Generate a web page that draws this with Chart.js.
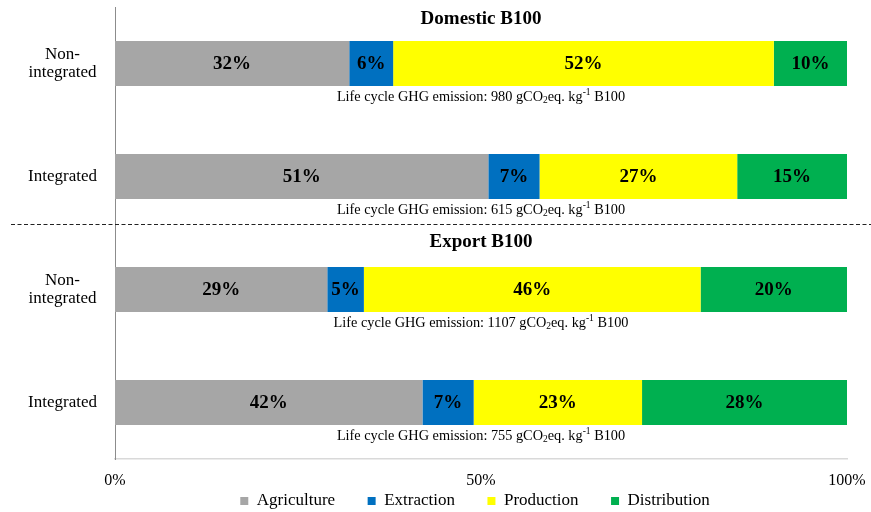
<!DOCTYPE html>
<html>
<head>
<meta charset="utf-8">
<script src="https://cdn.jsdelivr.net/npm/chart.js@4/dist/chart.umd.min.js"></script>
<style>
  html, body { margin: 0; padding: 0; background: #ffffff; }
  #wrap { width: 871px; height: 512px; position: relative; }
</style>
</head>
<body>
<div id="wrap"><canvas id="c" width="871" height="512"></canvas></div>
<script>
const categories = [["Non-", "integrated"], "Integrated", ["Non-", "integrated"], "Integrated"];
const seriesNames = ["Agriculture", "Extraction", "Production", "Distribution"];
const agriculture = [32, 51, 29, 42];
const extraction = [6, 7, 5, 7];
const production = [52, 27, 46, 23];
const distribution = [10, 15, 20, 28];
const emissions = [980, 615, 1107, 755];
const groupTitles = ["Domestic B100", "Export B100"];
const xTickValues = [0, 50, 100];

const colors = ["#A6A6A6", "#0070C0", "#FFFF00", "#00B050"];
const SERIF = "'Liberation Serif', 'Times New Roman', serif";

const overlay = {
  id: 'overlay',
  afterLayout(chart) {
    if (chart.legend) { chart.legend.left -= 6; chart.legend.right -= 6; }
  },
  afterDatasetsDraw(chart) {
    const ctx = chart.ctx;
    const y = chart.scales.y;
    const area = chart.chartArea;
    const cx = (area.left + area.right) / 2;

    // value labels inside segments
    ctx.save();
    ctx.fillStyle = '#000';
    ctx.font = 'bold 19px ' + SERIF;
    ctx.textAlign = 'center';
    ctx.textBaseline = 'middle';
    chart.data.datasets.forEach((ds, di) => {
      const meta = chart.getDatasetMeta(di);
      meta.data.forEach((bar, i) => {
        const xm = (bar.x + bar.base) / 2;
        ctx.fillText(ds.data[i] + '%', xm, bar.y + 1);
      });
    });
    ctx.restore();

    // emission annotations
    const meta0 = chart.getDatasetMeta(0);
    meta0.data.forEach((bar, i) => {
      const ty = bar.y + bar.height / 2 + 11;
      const pieces = [
        {t: 'Life cycle GHG emission: ' + emissions[i] + ' gCO', s: 14.3, dy: 0},
        {t: '2', s: 9.5, dy: 3},
        {t: 'eq. kg', s: 14.3, dy: 0},
        {t: '-1', s: 9.5, dy: -5},
        {t: ' B100', s: 14.3, dy: 0}
      ];
      ctx.save();
      ctx.fillStyle = '#000';
      ctx.textBaseline = 'middle';
      ctx.textAlign = 'left';
      let total = 0;
      pieces.forEach(p => { ctx.font = p.s + 'px ' + SERIF; p.w = ctx.measureText(p.t).width; total += p.w; });
      let x = cx - total / 2;
      pieces.forEach(p => {
        ctx.font = p.s + 'px ' + SERIF;
        ctx.fillText(p.t, x, ty + p.dy);
        x += p.w;
      });
      ctx.restore();
    });

    // group titles and dashed separator
    const p0 = y.getPixelForValue(0);
    const p1 = y.getPixelForValue(1);
    const p2 = y.getPixelForValue(2);
    const step = p1 - p0;
    ctx.save();
    ctx.fillStyle = '#000';
    ctx.font = 'bold 19px ' + SERIF;
    ctx.textAlign = 'center';
    ctx.textBaseline = 'middle';
    ctx.fillText(groupTitles[0], cx, p0 - step * 0.395);
    ctx.fillText(groupTitles[1], cx, p2 - step * 0.42);
    const dy = Math.round(p1 + step * 0.42) + 0.5;
    ctx.strokeStyle = '#222';
    ctx.lineWidth = 1;
    ctx.setLineDash([4, 2.5]);
    ctx.beginPath();
    ctx.moveTo(11, dy);
    ctx.lineTo(chart.width, dy);
    ctx.stroke();
    ctx.restore();
  }
};

new Chart(document.getElementById('c'), {
  type: 'bar',
  data: {
    labels: categories,
    datasets: [
      {label: seriesNames[0], data: agriculture, backgroundColor: colors[0]},
      {label: seriesNames[1], data: extraction, backgroundColor: colors[1]},
      {label: seriesNames[2], data: production, backgroundColor: colors[2]},
      {label: seriesNames[3], data: distribution, backgroundColor: colors[3]}
    ]
  },
  options: {
    indexAxis: 'y',
    responsive: false,
    animation: false,
    devicePixelRatio: 1,
    layout: {padding: {top: 7, right: 24, left: 0, bottom: 0}},
    datasets: {bar: {barPercentage: 0.4, categoryPercentage: 1.0, borderWidth: 0}},
    scales: {
      x: {
        stacked: true,
        min: 0, max: 100,
        afterBuildTicks(scale) { scale.ticks = xTickValues.map(v => ({value: v})); },
        afterFit(scale) {
          scale.height = 1;
          scale.paddingLeft = 0; scale.paddingRight = 0;
        },
        grid: {display: false, drawTicks: false},
        border: {display: true, color: '#D9D9D9', width: 1.5},
        ticks: {
          mirror: true,
          padding: -31,
          autoSkip: false,
          maxRotation: 0,
          color: '#000',
          font: {family: SERIF, size: 16},
          callback: v => v + '%'
        }
      },
      y: {
        stacked: true,
        afterFit(scale) {
          scale.width = 115;
          scale.paddingTop = 0; scale.paddingBottom = 0;
        },
        grid: {display: false, drawTicks: false},
        border: {display: true, color: '#8C8C8C', width: 1},
        ticks: {
          crossAlign: 'center',
          padding: 18,
          color: '#000',
          font: {family: SERIF, size: 17, lineHeight: 1.08}
        }
      }
    },
    plugins: {
      legend: {
        position: 'bottom',
        fullSize: false,
        maxHeight: 52,
        labels: {
          boxWidth: 8,
          boxHeight: 8,
          padding: 32.5,
          color: '#000',
          font: {family: SERIF, size: 17}
        }
      },
      tooltip: {enabled: false}
    }
  },
  plugins: [overlay]
});
</script>
</body>
</html>
